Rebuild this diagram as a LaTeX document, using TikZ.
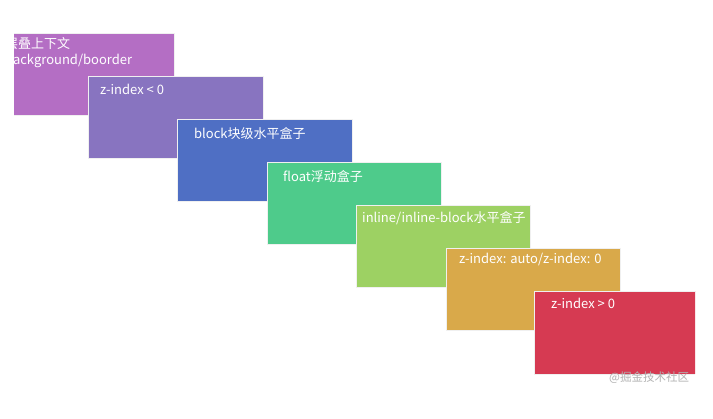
\documentclass[tikz,border=0pt]{standalone}
\usepackage{fontspec}
\setmainfont{Noto Sans CJK SC}
\begin{document}
\begin{tikzpicture}[x=1pt,y=-1pt,
  card/.style={draw=white!88!gray,line width=0.8pt},
  lbl/.style={anchor=north west,inner sep=0pt,text=white,font=\fontsize{13}{16}\selectfont}]
\useasboundingbox[fill=white] (0,0) rectangle (713,419);
\definecolor{c1}{HTML}{B46EC4}
\definecolor{c2}{HTML}{8874C0}
\definecolor{c3}{HTML}{4F6FC4}
\definecolor{c4}{HTML}{4ECB8B}
\definecolor{c5}{HTML}{9DD163}
\definecolor{c6}{HTML}{D9A94A}
\definecolor{c7}{HTML}{D63A52}
\begin{scope}
  \clip (14,0) rectangle (695,419);
  \fill[c1] (-1,33) rectangle (174,115);
  \draw[card] (14,33) -- (174,33) -- (174,115) -- (14,115);
  \node[lbl,align=left] (t1) at (5,37) {层叠上下文\\background/boorder};
  \draw[card,fill=c2] (88,76) rectangle (263,158);
  \node[lbl] (t2) at (100,84) {z-index < 0};
  \draw[card,fill=c3] (177,119) rectangle (352,201);
  \node[lbl] (t3) at (194,127) {block块级水平盒子};
  \draw[card,fill=c4] (267,162) rectangle (441,244);
  \node[lbl] (t4) at (283,170) {float浮动盒子};
  \draw[card,fill=c5] (356,205) rectangle (530,287);
  \node[lbl] (t5) at (362,211) {inline/inline-block水平盒子};
  \draw[card,fill=c6] (446,248) rectangle (620,330);
  \node[lbl] (t6) at (459,253) {z-index: auto/z-index: 0};
  \fill[c7] (534,291) rectangle (700,374);
  \draw[card] (695,291) -- (534,291) -- (534,374) -- (695,374);
  \node[lbl] (t7) at (551,298) {z-index > 0};
\end{scope}
\node[anchor=north west,inner sep=0pt,text=black!30,font=\fontsize{11.5}{13}\selectfont] (wm) at (609,372) {@掘金技术社区};
\end{tikzpicture}
\end{document}
